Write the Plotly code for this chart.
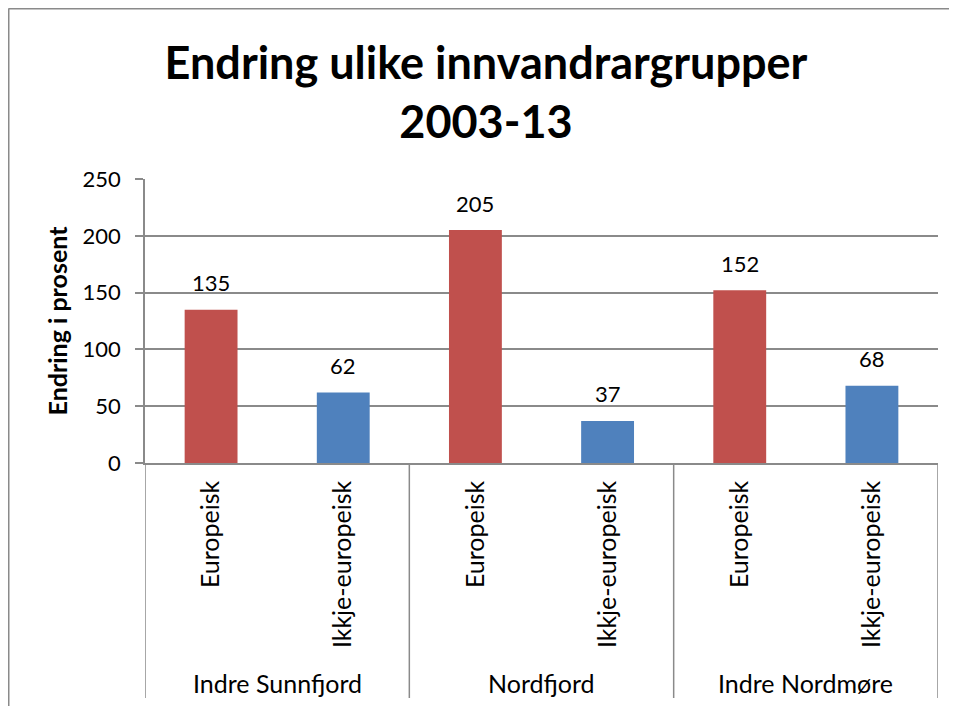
import plotly.graph_objects as go

groups = ["Indre Sunnfjord", "Nordfjord", "Indre Nordmøre"]
subcats = ["Europeisk", "Ikkje-europeisk"]
europeisk = [135, 205, 152]
ikkje_europeisk = [62, 37, 68]
y_ticks = [0, 50, 100, 150, 200, 250]

title_text = "Endring ulike innvandrargrupper<br>2003-13"
y_title = "Endring i prosent"

RED = "#C0504D"
BLUE = "#4F81BD"
GRID = "#8a8a8a"
FONT = "Lato"

# figure geometry (page has an 8px body margin)
W, H = 949, 698
L, R, T, B = 137, 19, 171, 243
PW, PH = W - L - R, H - T - B

n = len(groups)
x_eu = [2 * i for i in range(n)]
x_ik = [2 * i + 1 for i in range(n)]

fig = go.Figure()
fig.add_trace(go.Bar(x=x_eu, y=europeisk, marker_color=RED, width=0.4,
                     marker_line_width=0, name=subcats[0]))
fig.add_trace(go.Bar(x=x_ik, y=ikkje_europeisk, marker_color=BLUE, width=0.4,
                     marker_line_width=0, name=subcats[1]))

tickvals = []
ticktext = []
for i in range(n):
    tickvals += [2 * i, 2 * i + 1]
    ticktext += subcats

# data labels
for xs, ys in ((x_eu, europeisk), (x_ik, ikkje_europeisk)):
    for xv, yv in zip(xs, ys):
        fig.add_annotation(x=xv, y=yv, text=str(yv), showarrow=False,
                           yanchor="middle", yshift=27,
                           font=dict(family=FONT, size=22, color="black"))

# group labels
lab_y = -(683 - 463) / PH
div_y = -(698 - 463) / PH
for i, g in enumerate(groups):
    fig.add_annotation(x=2 * i + 0.5, y=lab_y, yref="paper", text=g,
                       showarrow=False, yanchor="middle",
                       font=dict(family=FONT, size=25, color="black"))

# group dividers
for i in range(n + 1):
    xd = 2 * i - 0.5
    fig.add_shape(type="line", xref="x", yref="paper", x0=xd, x1=xd,
                  y0=0, y1=div_y, line=dict(color=GRID, width=1.5))

# outer chart border
bx = (0.5 - L) / PW
by = 1 + (T - 0.5) / PH
fig.add_shape(type="line", xref="paper", yref="paper", x0=bx, x1=bx,
              y0=by, y1=-1.2, line=dict(color="#8a8a8a", width=2))
fig.add_shape(type="line", xref="paper", yref="paper", x0=bx, x1=1.2,
              y0=by, y1=by, line=dict(color="#8a8a8a", width=2))

fig.update_layout(
    width=W, height=H,
    margin=dict(l=L, r=R, t=T, b=B),
    paper_bgcolor="white", plot_bgcolor="white",
    showlegend=False,
    title=dict(text=title_text, x=478 / W, xanchor="center",
               y=1 - 71 / H, yanchor="middle",
               font=dict(family=FONT, size=45, color="black", weight="bold")),
    font=dict(family=FONT, color="black"),
)
fig.update_xaxes(range=[-0.5, 2 * n - 0.5], tickvals=tickvals, ticktext=ticktext,
                 tickangle=-90, ticks="", showline=True, linecolor=GRID, linewidth=1.5,
                 showgrid=False, zeroline=False, ticklabelstandoff=6,
                 tickfont=dict(family=FONT, size=25, color="black"))
fig.update_yaxes(range=[0, 250], tickvals=y_ticks, showgrid=True, gridcolor=GRID,
                 gridwidth=1.5, ticks="outside", ticklen=8, tickcolor=GRID,
                 tickwidth=1.5, showline=True, linecolor=GRID, linewidth=1.5,
                 zeroline=False, ticklabelstandoff=10,
                 tickfont=dict(family=FONT, size=22, color="black"),
                 title=dict(text="<b>" + y_title + "</b>", standoff=8,
                            font=dict(family=FONT, size=25, color="black")))

fig.write_html("out.html")
